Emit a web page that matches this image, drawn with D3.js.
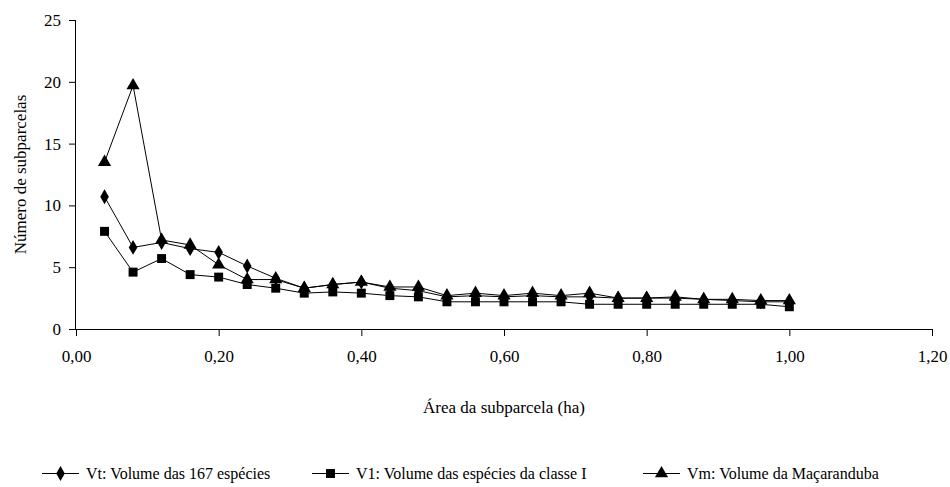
<!DOCTYPE html>
<html>
<head>
<meta charset="utf-8">
<script src="https://cdn.jsdelivr.net/npm/d3@7"></script>
<style>
  body { margin: 0; background: #fff; }
  svg { display: block; }
  svg text { font-family: "Liberation Serif", "Times New Roman", "DejaVu Serif", serif !important; }
</style>
</head>
<body>
<svg id="chart" width="950" height="487"></svg>
<script>
// area of the subplot (ha)
const areas = [0.04, 0.08, 0.12, 0.16, 0.20, 0.24, 0.28, 0.32, 0.36, 0.40, 0.44, 0.48, 0.52,
               0.56, 0.60, 0.64, 0.68, 0.72, 0.76, 0.80, 0.84, 0.88, 0.92, 0.96, 1.00];

const vt = [10.7, 6.6, 7.0, 6.5, 6.2, 5.1, 4.1, 3.3, 3.6, 3.8, 3.3, 3.1, 2.6,
            2.7, 2.6, 2.7, 2.6, 2.6, 2.5, 2.5, 2.5, 2.4, 2.3, 2.2, 2.2];
const v1 = [7.9, 4.6, 5.7, 4.4, 4.2, 3.6, 3.3, 2.9, 3.0, 2.9, 2.7, 2.6, 2.2,
            2.2, 2.2, 2.2, 2.2, 2.0, 2.0, 2.0, 2.0, 2.0, 2.0, 2.0, 1.8];
const vm = [13.5, 19.7, 7.2, 6.8, 5.2, 4.0, 4.0, 3.3, 3.6, 3.8, 3.4, 3.4, 2.7,
            2.9, 2.7, 2.9, 2.7, 2.9, 2.5, 2.5, 2.6, 2.4, 2.4, 2.3, 2.3];

const seriesNames = ["Vt: Volume das 167 espécies", "V1: Volume das espécies da classe I", "Vm: Volume da Maçaranduba"];
const xTicks = [0, 0.2, 0.4, 0.6, 0.8, 1.0, 1.2];
const yTicks = [0, 5, 10, 15, 20, 25];

const series = [
  { name: seriesNames[0], values: vt, symbol: d3.symbolDiamond, size: 64 },
  { name: seriesNames[1], values: v1, symbol: d3.symbolSquare, size: 80 },
  { name: seriesNames[2], values: vm, symbol: d3.symbolTriangle, size: 75 }
];

const margin = { top: 20, left: 76, right: 18, bottom: 158 };
const width = 950 - margin.left - margin.right;
const height = 487 - margin.top - margin.bottom;

const svg = d3.select("#chart");
const g = svg.append("g").attr("transform", `translate(${margin.left},${margin.top})`);

const x = d3.scaleLinear().domain([0, 1.2]).range([0, width]);
const y = d3.scaleLinear().domain([0, 25]).range([height, 0]);

const fmt = d => d3.format(".2f")(d).replace(".", ",");

// y axis
const yAxis = g.append("g")
  .call(d3.axisLeft(y).tickValues(yTicks).tickSize(7).tickPadding(8));
yAxis.attr("font-family", null).attr("font-size", null);
yAxis.selectAll("text").style("font-size", "17px").attr("fill", "#000");
yAxis.select(".domain").attr("d", `M-0.5,${height}V0`);

// x axis
const xAxis = g.append("g")
  .attr("transform", `translate(0,${height})`)
  .call(d3.axisBottom(x).tickValues(xTicks).tickFormat(fmt).tickSize(7).tickPadding(14));
xAxis.attr("font-family", null).attr("font-size", null);
xAxis.selectAll("text").style("font-size", "17px").attr("fill", "#000");
xAxis.select(".domain").attr("d", `M0,0.5H${width}`);

g.selectAll(".domain, .tick line").attr("stroke", "#000");

// axis titles
g.append("text")
  .attr("x", width / 2)
  .attr("y", height + 78)
  .attr("dy", "0.35em")
  .attr("text-anchor", "middle")
  .style("font-size", "17px")
  .text("Área da subparcela (ha)");

g.append("text")
  .attr("transform", `translate(${-56},${height / 2}) rotate(-90)`)
  .attr("dy", "0.35em")
  .attr("text-anchor", "middle")
  .style("font-size", "17px")
  .text("Número de subparcelas");

// lines and markers
const line = d3.line()
  .x((d, i) => x(areas[i]))
  .y(d => y(d));

series.forEach(s => {
  g.append("path")
    .datum(s.values)
    .attr("fill", "none")
    .attr("stroke", "#000")
    .attr("stroke-width", 1)
    .attr("d", line);

  g.selectAll(null)
    .data(s.values)
    .enter().append("path")
    .attr("d", d3.symbol(s.symbol, s.size))
    .attr("transform", (d, i) => `translate(${x(areas[i])},${y(d)})`)
    .attr("fill", "#000");
});

// legend
const legendX = [42, 312, 643];
const legend = svg.append("g").attr("transform", "translate(0,473.5)");
series.forEach((s, i) => {
  const item = legend.append("g").attr("transform", `translate(${legendX[i]},0)`);
  item.append("line")
    .attr("x1", 0).attr("x2", 37)
    .attr("stroke", "#000");
  item.append("path")
    .attr("d", d3.symbol(s.symbol, s.size))
    .attr("transform", "translate(18.5,0)")
    .attr("fill", "#000");
  item.append("text")
    .attr("x", 44)
    .attr("dy", "0.35em")
    .style("font-size", "16px")
    .text(s.name);
});
</script>
</body>
</html>
